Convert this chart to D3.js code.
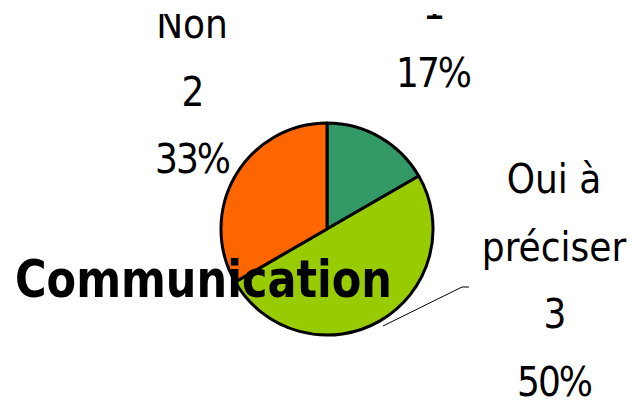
<!DOCTYPE html>
<html>
<head>
<meta charset="utf-8">
<script src="https://cdn.jsdelivr.net/npm/d3@7"></script>
<style>
  body { margin: 0; background: #fff; }
  svg { display: block; }
  .num { letter-spacing: -2px; }
</style>
</head>
<body>
<svg width="637" height="401"></svg>
<script>
// data
var categories = ["Oui", "Oui à préciser", "Non"];
var counts = [1, 3, 2];
var percents = ["17%", "50%", "33%"];
var colors = ["#339966", "#99CC00", "#FF6600"];
var title = "Communication";

var svg = d3.select("svg"),
    cx = 327, cy = 229, radius = 106,
    lineStep = 67.5;

// where excel put each label block (centre x, baseline of first line)
var labelPos = [
  {x: 433, y: -48.5},
  {x: 554, y: 193},
  {x: 192, y: 38}
];

var data = categories.map(function(c, i) {
  return {name: c, value: counts[i], pct: percents[i], color: colors[i]};
});

var pie = d3.pie().sort(null).value(function(d) { return d.value; });
var arc = d3.arc().innerRadius(0).outerRadius(radius);
var edge = d3.arc().innerRadius(radius + 6).outerRadius(radius + 6);

var g = svg.append("g").attr("transform", "translate(" + cx + "," + cy + ")");

var arcs = pie(data);

g.selectAll("path.slice")
  .data(arcs)
  .enter().append("path")
    .attr("class", "slice")
    .attr("d", arc)
    .attr("fill", function(d) { return d.data.color; })
    .attr("stroke", "#000")
    .attr("stroke-width", 3)
    .attr("stroke-linejoin", "round");

// chart area clips the labels at the top
svg.append("clipPath").attr("id", "plotclip")
  .append("rect").attr("x", 0).attr("y", 14).attr("width", 637).attr("height", 401);

function wrap(name) {
  var words = name.split(" "), lines = [], cur = "";
  words.forEach(function(w) {
    if (cur && (cur + " " + w).length > 8) { lines.push(cur); cur = w; }
    else cur = cur ? cur + " " + w : w;
  });
  lines.push(cur);
  return lines;
}

var labels = svg.append("g")
    .attr("clip-path", "url(#plotclip)")
    .attr("font-family", "DejaVu Sans Condensed, DejaVu Sans, sans-serif")
    .attr("font-size", 40)
    .attr("text-anchor", "middle")
    .attr("fill", "#000");

arcs.forEach(function(a, i) {
  var names = wrap(a.data.name);
  var lines = names.concat([String(a.data.value), a.data.pct]);
  var t = labels.append("text");
  lines.forEach(function(l, j) {
    t.append("tspan")
      .attr("class", j >= names.length ? "num" : null)
      .attr("x", labelPos[i].x)
      .attr("y", labelPos[i].y + j * lineStep)
      .text(l);
  });
});

// leader line for the big slice
var big = arcs[1];
var p0 = edge.centroid(big);
svg.append("polyline")
  .attr("points", [
      [cx + p0[0], cy + p0[1]],
      [462, 287],
      [469, 287]
    ].join(" "))
  .attr("fill", "none")
  .attr("stroke", "#000")
  .attr("stroke-width", 1);

svg.append("text")
  .attr("x", 15)
  .attr("y", 297)
  .attr("font-family", "DejaVu Sans Condensed, DejaVu Sans, sans-serif")
  .attr("font-weight", "bold")
  .attr("font-size", 52)
  .attr("textLength", 377)
  .attr("lengthAdjust", "spacingAndGlyphs")
  .attr("fill", "#000")
  .text(title);
</script>
</body>
</html>
